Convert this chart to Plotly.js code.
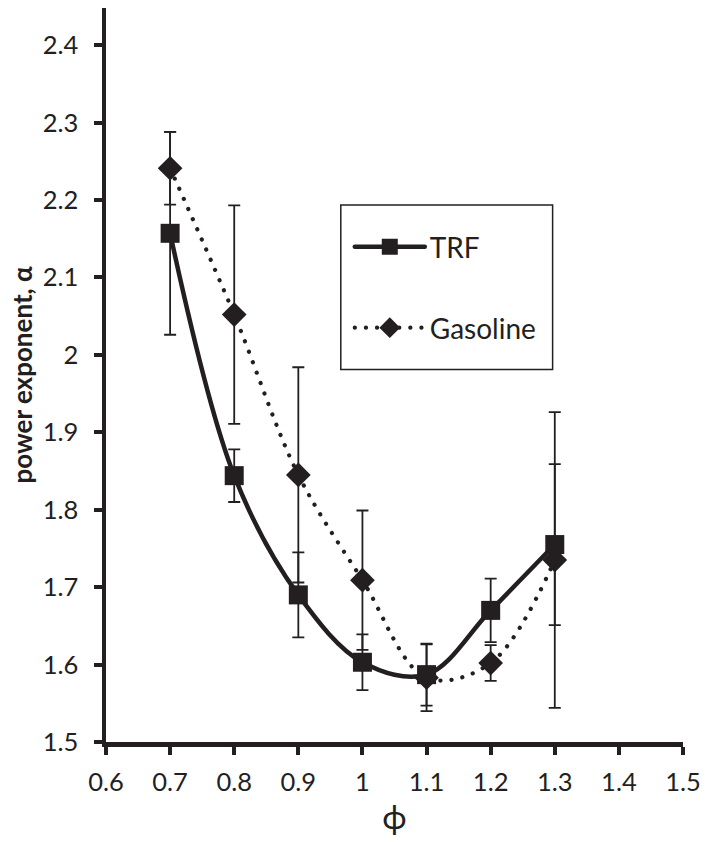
<!DOCTYPE html>
<html><head><meta charset="utf-8">
<script src="https://cdn.plot.ly/plotly-3.0.1.min.js"></script>
<style>
html,body{margin:0;padding:0;background:#fff;}
#chart{width:705px;height:842px;}
path.js-line{stroke-linecap:round;}
</style></head><body><div id="chart"></div>
<script>
// data
const phi = [0.7, 0.8, 0.9, 1.0, 1.1, 1.2, 1.3];
const trfAlpha = [2.157, 1.844, 1.690, 1.603, 1.587, 1.670, 1.755];
const trfErr   = [0.131, 0.034, 0.055, 0.036, 0.040, 0.041, 0.104];
const gasAlpha = [2.241, 2.052, 1.845, 1.709, 1.583, 1.602, 1.735];
const gasErr   = [0.047, 0.141, 0.139, 0.090, 0.043, 0.023, 0.191];
const xTickVals = [0.6, 0.7, 0.8, 0.9, 1.0, 1.1, 1.2, 1.3, 1.4, 1.5];
const xTickText = ['0.6','0.7','0.8','0.9','1','1.1','1.2','1.3','1.4','1.5'];
const yTickVals = [1.5, 1.6, 1.7, 1.8, 1.9, 2.0, 2.1, 2.2, 2.3, 2.4];
const yTickText = ['1.5','1.6','1.7','1.8','1.9','2','2.1','2.2','2.3','2.4'];

const ink = '#231f20';
const FONT = 'Lato, "Open Sans", "DejaVu Sans", sans-serif';

const gas = {
  x: phi, y: gasAlpha, name: 'Gasoline', type: 'scatter', mode: 'lines+markers',
  line: {shape: 'spline', smoothing: 1, color: ink, width: 4.2, dash: '0.1px,11px'},
  marker: {symbol: 'diamond', size: 19, color: ink, line: {width: 0}},
  error_y: {type: 'data', array: gasErr, visible: true, color: ink, thickness: 1.8, width: 6},
  legend: 'legend2'
};
const trf = {
  x: phi, y: trfAlpha, name: 'TRF', type: 'scatter', mode: 'lines+markers',
  line: {shape: 'spline', smoothing: 1, color: ink, width: 4.5},
  marker: {symbol: 'square', size: 19, color: ink, line: {width: 0}},
  error_y: {type: 'data', array: trfErr, visible: true, color: ink, thickness: 1.8, width: 6},
  legend: 'legend'
};

const L = 106, R = 21.5, T = 8, B = 100;
const PW = 705 - L - R, PH = 842 - T - B;
const px = v => (v - L) / PW;
const py = v => 1 - (v - T) / PH;

const layout = {
  width: 705, height: 842,
  margin: {l: L, r: R, t: T, b: B, pad: 0},
  paper_bgcolor: '#fff', plot_bgcolor: '#fff',
  font: {family: FONT, color: ink, size: 25},
  showlegend: true,
  xaxis: {
    range: [0.6, 1.5], tickmode: 'array', tickvals: xTickVals, ticktext: xTickText,
    showgrid: false, zeroline: false, showline: true, linecolor: ink, linewidth: 4.5,
    ticks: 'outside', ticklen: 8, tickwidth: 4, tickcolor: ink, ticklabelstandoff: 6,
    tickfont: {family: FONT, size: 25.5, color: ink},
    title: {text: '\u03D5', font: {family: FONT, size: 33, color: ink}, standoff: 12}
  },
  yaxis: {
    range: [1.5, 2.448], tickmode: 'array', tickvals: yTickVals, ticktext: yTickText,
    showgrid: false, zeroline: false, showline: true, linecolor: ink, linewidth: 4.5,
    ticks: 'outside', ticklen: 8, tickwidth: 4, tickcolor: ink, ticklabelstandoff: 10,
    tickfont: {family: FONT, size: 25.5, color: ink},
    title: {text: '<b>power exponent, \u03B1</b>', font: {family: FONT, size: 26, color: ink}, standoff: 4}
  },
  legend: {x: px(350), y: py(247), xanchor: 'left', yanchor: 'middle',
    bgcolor: 'rgba(0,0,0,0)', borderwidth: 0, itemwidth: 70,
    font: {family: FONT, size: 28, color: ink}},
  legend2: {x: px(350), y: py(328), xanchor: 'left', yanchor: 'middle',
    bgcolor: 'rgba(0,0,0,0)', borderwidth: 0, itemwidth: 70,
    font: {family: FONT, size: 28, color: ink}},
  shapes: [{type: 'rect', xref: 'paper', yref: 'paper',
    x0: px(341), x1: px(553), y0: py(205), y1: py(369.5),
    line: {color: ink, width: 1.5}, fillcolor: 'rgba(0,0,0,0)'}]
};

Plotly.newPlot('chart', [gas, trf], layout, {displayModeBar: false, staticPlot: true});
</script></body></html>
